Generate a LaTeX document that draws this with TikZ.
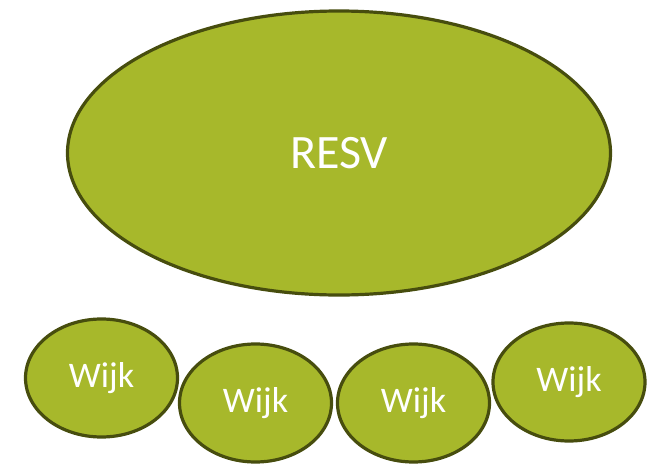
\documentclass[tikz,border=0pt]{standalone}
\usepackage{fontspec}
\setmainfont{Carlito}
\usetikzlibrary{shapes.geometric}
\definecolor{wijkgreen}{HTML}{A7B82B}
\definecolor{wijkrand}{HTML}{474D0E}
\tikzset{
	blob/.style={ellipse, draw=wijkrand, fill=wijkgreen, line width=3.2pt, inner sep=0pt, text=white},
}
\begin{document}
\begin{tikzpicture}[x=1pt,y=-1pt]
		\useasboundingbox (0,0) rectangle (662,464);
		\node[blob, minimum width=543pt, minimum height=284pt, font=\fontsize{48}{56}\selectfont] (resv) at (339,153){RESV};
		\foreach \x/\y/\n in {101.5/378/1, 255.5/403/2, 413.5/403/3, 569/382/4}
		\node[blob, minimum width=152pt, minimum height=118pt, font=\fontsize{36}{42}\selectfont] (wijk\n) at (\x,\y){Wijk};
	\end{tikzpicture}
\end{document}
